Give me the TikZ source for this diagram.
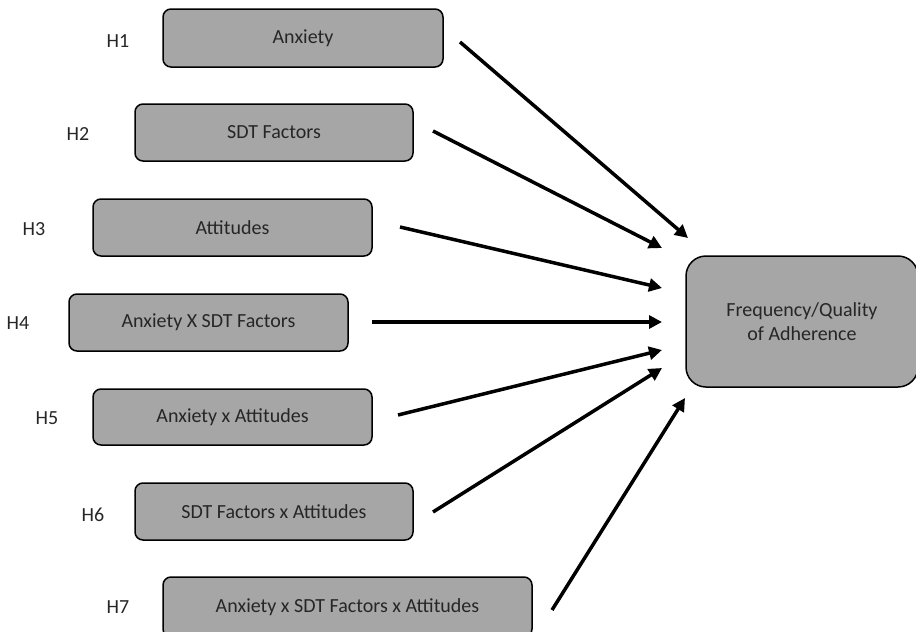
\documentclass[tikz,border=0pt]{standalone}
\usepackage{fontspec}
\setmainfont{Carlito}
\usetikzlibrary{arrows.meta}
\begin{document}
\begin{tikzpicture}[x=1pt,y=-1pt,
  hbox/.style={draw=black,line width=1.5pt,fill=boxgray,rounded corners=8pt,inner sep=0pt,font=\fontsize{20}{24}\selectfont,text=black!85},
  hlab/.style={font=\fontsize{20}{24}\selectfont,text=black!85},
  arr/.style={line width=3.5pt,-{Triangle[length=13pt,width=13pt]}}]
\definecolor{boxgray}{HTML}{A6A6A6}
\useasboundingbox (0,0) rectangle (916,632);
\node[hbox,minimum width=280pt,minimum height=58pt] (b1) at (303,38) {Anxiety};
\node[hbox,minimum width=278pt,minimum height=57pt] (b2) at (274,132.5) {SDT Factors};
\node[hbox,minimum width=279pt,minimum height=57pt] (b3) at (232.5,227.5) {Attitudes};
\node[hbox,minimum width=279pt,minimum height=57pt] (b4) at (208.5,322.5) {Anxiety X SDT Factors};
\node[hbox,minimum width=279pt,minimum height=56pt] (b5) at (232.5,417) {Anxiety x Attitudes};
\node[hbox,minimum width=278pt,minimum height=57pt] (b6) at (274,511.5) {SDT Factors x Attitudes};
\node[hbox,minimum width=369pt,minimum height=60pt] (b7) at (347.5,607) {Anxiety x SDT Factors x Attitudes};
\node[hbox,rounded corners=20pt,minimum width=232pt,minimum height=131pt,align=center] (out) at (802,321.5) {Frequency/Quality\\of Adherence};
\node[hlab] (h1) at (118,41) {H1};
\node[hlab] (h2) at (78,134) {H2};
\node[hlab] (h3) at (34,229) {H3};
\node[hlab] (h4) at (18,323) {H4};
\node[hlab] (h5) at (47,418) {H5};
\node[hlab] (h6) at (93,515) {H6};
\node[hlab] (h7) at (118,607) {H7};
\coordinate (s1) at (460,42);  \coordinate (e1) at (688,238);
\coordinate (s2) at (433,131); \coordinate (e2) at (662,248);
\coordinate (s3) at (400,227); \coordinate (e3) at (662,288);
\coordinate (s4) at (372,322); \coordinate (e4) at (662,322);
\coordinate (s5) at (398,415); \coordinate (e5) at (662,350);
\coordinate (s6) at (433,512); \coordinate (e6) at (662,368);
\coordinate (s7) at (552,610); \coordinate (e7) at (685,398);
\foreach \i in {1,...,7} \draw[arr] (s\i) -- (e\i);
\end{tikzpicture}
\end{document}
